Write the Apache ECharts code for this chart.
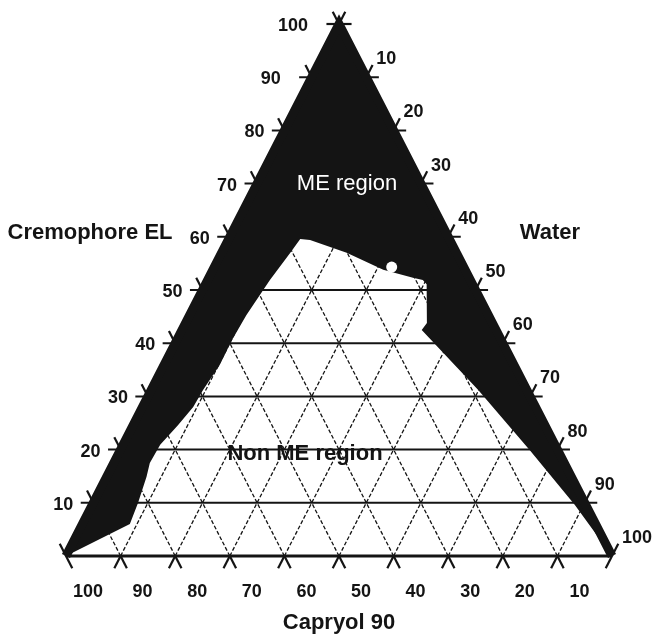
<!DOCTYPE html>
<html>
<head>
<meta charset="utf-8">
<script src="https://cdn.jsdelivr.net/npm/echarts@6/dist/echarts.min.js"></script>
<style>
html,body{margin:0;padding:0;background:#fff}
#main{width:652px;height:636px}
</style>
</head>
<body>
<div id="main"></div>
<script>
// compositions are [Capryol 90, Cremophore EL, Water] in %
var gridSteps = [10, 20, 30, 40, 50, 60, 70, 80, 90];
var bottomTicks = [100, 90, 80, 70, 60, 50, 40, 30, 20, 10];   // Capryol 90
var leftTicks = [10, 20, 30, 40, 50, 60, 70, 80, 90, 100];     // Cremophore EL
var rightTicks = [10, 20, 30, 40, 50, 60, 70, 80, 90, 100];    // Water

// outline of the ME region (black)
var meRegion = [
  [100, 0, 0],
  [85.3, 6.0, 8.7],
  [81.8, 10.0, 8.2],
  [77.8, 14.9, 7.3],
  [75.9, 17.5, 6.6],
  [72.3, 20.9, 6.8],
  [67.2, 24.6, 8.2],
  [62.7, 28.0, 9.3],
  [59.3, 31.2, 9.5],
  [53.9, 35.9, 10.2],
  [49.3, 40.6, 10.1],
  [44.3, 45.3, 10.4],
  [36.7, 51.9, 11.4],
  [30.3, 57.1, 12.6],
  [27.3, 59.6, 13.1],
  [25.6, 59.4, 15.0],
  [20.1, 57.0, 22.9],
  [15.0, 53.8, 31.2],
  [10.3, 52.3, 37.4],
  [8.7, 51.9, 39.4],
  [8.4, 51.1, 40.5],
  [12.0, 43.8, 44.2],
  [13.6, 42.5, 43.9],
  [8.9, 31.2, 59.9],
  [5.1, 19.9, 75.0],
  [2.0, 9.6, 88.4],
  [0, 0, 100],
  [0, 100, 0]
];
var mePoint = [13.2, 54.3, 32.5];

var TL = 2.3; // tick length in % units
var ink = '#141414';
var tickFont = 'bold 18px "Liberation Sans", Arial, sans-serif';
var titleFont = 'bold 22px "Liberation Sans", Arial, sans-serif';

// ternary -> plain x/y on a 0..100 cartesian grid
function xy(c) { return [c[2] + c[1] / 2, c[1]]; }

var segs = [];
function seg(a, b, kind) {
  var p = xy(a), q = xy(b);
  segs.push([p[0], p[1], q[0], q[1], kind]);
}
// kind: 0 solid horizontal, 1 dashed diagonal, 2 tick, 3 base line
gridSteps.forEach(function (v) {
  seg([100 - v + TL, v, -TL], [-TL, v, 100 - v + TL], 0);
  // constant Capryol
  seg([v, 0, 100 - v], [v, 100 - v, 0], 1);
  seg([v, 0, 100 - v], [v, -TL, 100 - v + TL], 2);
  seg([v, 100 - v, 0], [v, 100 - v + TL, -TL], 2);
  // constant Water
  seg([100 - v, 0, v], [0, 100 - v, v], 1);
  seg([100 - v, 0, v], [100 - v + TL, -TL, v], 2);
  seg([0, 100 - v, v], [-TL, 100 - v + TL, v], 2);
});
seg([TL, 100, -TL], [-TL, 100, TL], 2);
seg([100, -TL, TL], [100, TL, -TL], 2);
seg([TL, -TL, 100], [-TL, TL, 100], 2);
seg([0, 100, 0], [0, 100 + TL, -TL], 2);
seg([0, 100, 0], [-TL, 100 + TL, 0], 2);
seg([100, 0, 0], [0, 0, 100], 3);

var segStyle = [
  { stroke: ink, lineWidth: 2 },
  { stroke: ink, lineWidth: 1.3, lineDash: [4, 2] },
  { stroke: ink, lineWidth: 2.2 },
  { stroke: ink, lineWidth: 3.2 }
];

// tick labels
var labels = [];
bottomTicks.forEach(function (v) {
  labels.push({ p: xy([v, 0, 100 - v]), text: String(v), dx: 22, dy: 36, align: 'center' });
});
leftTicks.forEach(function (v) {
  labels.push({ p: xy([100 - v, v, 0]), text: String(v), dx: v >= 90 ? -31 : -20, dy: 2, align: 'right' });
});
rightTicks.forEach(function (v) {
  labels.push({ p: xy([0, 100 - v, v]), text: String(v), dx: 10, dy: -18, align: 'left' });
});

var chart = echarts.init(document.getElementById('main'));
chart.setOption({
  animation: false,
  grid: { left: 66, right: 40, top: 24, bottom: 80 },
  xAxis: { type: 'value', min: 0, max: 100, show: false },
  yAxis: { type: 'value', min: 0, max: 100, show: false },
  series: [
    {
      type: 'custom',
      name: 'grid',
      coordinateSystem: 'cartesian2d',
      clip: false,
      silent: true,
      z: 1,
      data: segs,
      encode: { x: [0, 2], y: [1, 3] },
      renderItem: function (params, api) {
        var a = api.coord([api.value(0), api.value(1)]);
        var b = api.coord([api.value(2), api.value(3)]);
        return {
          type: 'line',
          shape: { x1: a[0], y1: a[1], x2: b[0], y2: b[1] },
          style: segStyle[api.value(4)]
        };
      }
    },
    {
      type: 'custom',
      name: 'ME region',
      coordinateSystem: 'cartesian2d',
      clip: false,
      silent: true,
      z: 3,
      data: [[50, 50]],
      renderItem: function (params, api) {
        var pts = meRegion.map(function (c) { return api.coord(xy(c)); });
        var edge = [[100, 0, 0], [0, 100, 0], [0, 0, 100]].map(function (c) { return api.coord(xy(c)); });
        return {
          type: 'group',
          children: [
            { type: 'polygon', shape: { points: pts }, style: { fill: ink } },
            { type: 'polyline', shape: { points: edge },
              style: { fill: null, stroke: ink, lineWidth: 9, lineJoin: 'miter', miterLimit: 10 } }
          ]
        };
      }
    },
    {
      type: 'scatter',
      z: 4,
      silent: true,
      symbolSize: 11,
      itemStyle: { color: '#fff', opacity: 1 },
      data: [xy(mePoint)]
    },
    {
      type: 'custom',
      name: 'labels',
      coordinateSystem: 'cartesian2d',
      clip: false,
      silent: true,
      z: 5,
      data: labels.map(function (l) { return l.p; }),
      renderItem: function (params, api) {
        var l = labels[params.dataIndex];
        var pt = api.coord(l.p);
        return {
          type: 'text',
          x: pt[0] + l.dx,
          y: pt[1] + l.dy,
          style: { text: l.text, font: tickFont, fill: ink, align: l.align, verticalAlign: 'middle' }
        };
      }
    }
  ],
  graphic: [
    { type: 'text', z: 100, x: 339, y: 623, style: { text: 'Capryol 90', font: titleFont, fill: ink, align: 'center', verticalAlign: 'middle' } },
    { type: 'text', z: 100, x: 90, y: 233, style: { text: 'Cremophore EL', font: titleFont, fill: ink, align: 'center', verticalAlign: 'middle' } },
    { type: 'text', z: 100, x: 550, y: 233, style: { text: 'Water', font: titleFont, fill: ink, align: 'center', verticalAlign: 'middle' } },
    { type: 'text', z: 100, x: 347, y: 184, style: { text: 'ME region', font: '22px "Liberation Sans", Arial, sans-serif', fill: '#fff', align: 'center', verticalAlign: 'middle' } },
    { type: 'text', z: 100, x: 305, y: 454, style: { text: 'Non ME region', font: titleFont, fill: ink, align: 'center', verticalAlign: 'middle' } }
  ]
});
</script>
</body>
</html>
